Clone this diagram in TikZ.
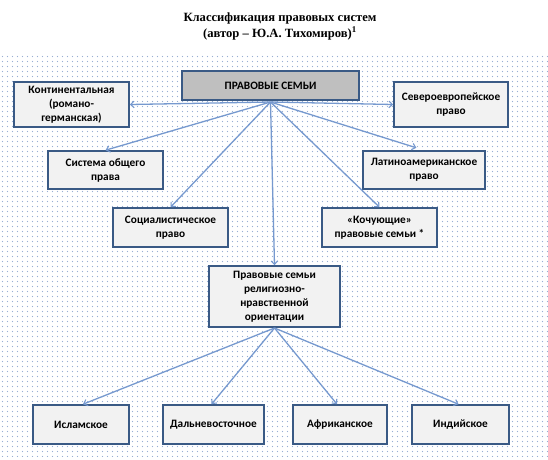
\documentclass[tikz,border=0pt]{standalone}
\usepackage{fontspec}
\setmainfont{Carlito}
\newfontfamily\titlefont{Liberation Serif}
\usetikzlibrary{arrows.meta,patterns}
\pgfdeclarepatternformonly{bgdots}{\pgfqpoint{-1pt}{-1pt}}{\pgfqpoint{6pt}{6pt}}{\pgfqpoint{5pt}{5pt}}{%
  \pgfpathcircle{\pgfqpoint{2.5pt}{2.5pt}}{0.6pt}\pgfusepath{fill}}
\definecolor{boxborder}{HTML}{3A5A85}
\definecolor{boxfill}{HTML}{F2F2F2}
\definecolor{topfill}{HTML}{BFBFBF}
\definecolor{arrowcol}{HTML}{7699CF}
\definecolor{dotcol}{HTML}{98AED3}
\tikzset{
  box/.style={draw=boxborder, line width=1.6pt, fill=boxfill, align=center,
    font=\fontsize{11.3}{14}\selectfont\bfseries, inner sep=1pt},
  topbox/.style={box, fill=topfill},
  conn/.style={draw=arrowcol, line width=1.3pt,
    -{Straight Barb[length=3.5pt,width=6.5pt,line width=1.1pt]}},
}
\begin{document}
\begin{tikzpicture}[x=1pt,y=-1pt]
\useasboundingbox (0,0) rectangle (548,459);
\fill[white] (0,0) rectangle (548,459);
\fill[pattern=bgdots, pattern color=dotcol] (0,53) rectangle (548,456);
\node[font=\titlefont\fontsize{12.6}{16}\selectfont\bfseries, align=center] (title) at (280,26)
  {Классификация правовых систем\\(автор – Ю.А. Тихомиров)\textsuperscript{1}};
\node[topbox, minimum width=177pt, minimum height=29pt] (top) at (270.5,85.5) {ПРАВОВЫЕ СЕМЬИ};
\node[box, minimum width=115pt, minimum height=45pt] (cont) at (71.5,104.5) {Континентальная\\(романо-\\германская)};
\node[box, minimum width=114pt, minimum height=45pt] (north) at (451,104.5) {Североевропейское\\право};
\node[box, minimum width=115pt, minimum height=38pt] (common) at (105.5,170) {Система общего\\права};
\node[box, minimum width=122pt, minimum height=38pt] (latin) at (424,170) {Латиноамериканское\\право};
\node[box, minimum width=115pt, minimum height=39pt] (social) at (170.5,227.5) {Социалистическое\\право};
\node[box, minimum width=115pt, minimum height=39pt] (nomad) at (379.5,227.5) {«Кочующие»\\правовые семьи *};
\node[box, minimum width=131pt, minimum height=61pt] (relig) at (274.5,296.5) {Правовые семьи\\религиозно-\\нравственной\\ориентации};
\node[box, minimum width=96pt, minimum height=39pt] (islam) at (81,424.5) {Исламское};
\node[box, minimum width=101pt, minimum height=39pt] (far) at (213.5,424.5) {Дальневосточное};
\node[box, minimum width=94pt, minimum height=39pt] (afr) at (340,424.5) {Африканское};
\node[box, minimum width=97pt, minimum height=39pt] (ind) at (460.5,424.5) {Индийское};
\coordinate (hub) at (270.5,102);
\coordinate (rhub) at (274.5,328);
\draw[conn] (hub) -- (cont.east);
\draw[conn] (hub) -- (north.west);
\draw[conn] (hub) -- (common.north);
\draw[conn, shorten >=8pt] (hub) -- (latin.north);
\draw[conn] (hub) -- (social.north);
\draw[conn] (hub) -- (nomad.north);
\draw[conn] (hub) -- (relig.north);
\draw[conn] (rhub) -- ([xshift=2pt]islam.north);
\draw[conn] (rhub) -- ([xshift=-2pt]far.north);
\draw[conn] (rhub) -- ([xshift=-3pt]afr.north);
\draw[conn] (rhub) -- ([xshift=-2pt]ind.north);
\end{tikzpicture}
\end{document}
